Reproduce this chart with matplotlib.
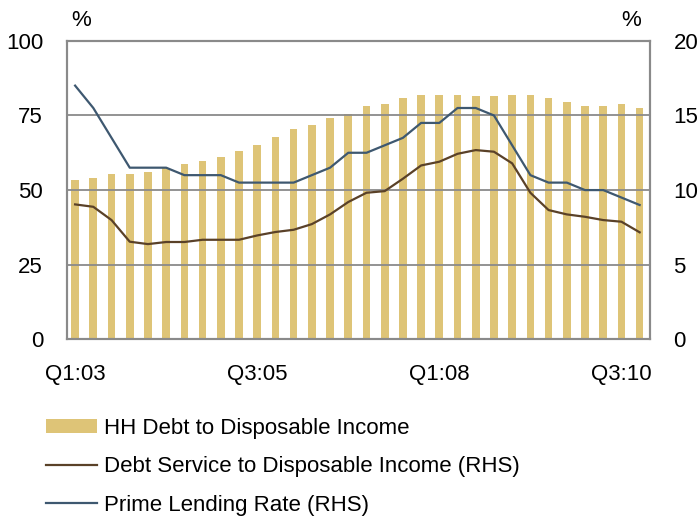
import numpy as np
import matplotlib.pyplot as plt
from matplotlib.patches import Patch
from matplotlib.lines import Line2D

plt.rcParams['font.family'] = ['Liberation Sans', 'DejaVu Sans']

# quarters Q1:03 .. Q4:10
quarters = [f"Q{q}:{y:02d}" for y in range(3, 11) for q in range(1, 5)]

hh_debt = [53.3, 54.0, 55.4, 55.4, 56.0, 57.3, 58.6, 59.8, 61.2, 63.2,
           65.1, 67.7, 70.3, 71.7, 74.3, 75.6, 78.1, 78.8, 80.8, 82.0,
           82.0, 82.0, 81.4, 81.4, 82.0, 82.0, 80.7, 79.5, 78.1, 78.1,
           78.8, 77.5]

debt_service = [9.04, 8.88, 7.99, 6.54, 6.38, 6.52, 6.52, 6.67, 6.67, 6.67,
                6.96, 7.19, 7.34, 7.72, 8.37, 9.2, 9.82, 9.93, 10.76, 11.65,
                11.9, 12.43, 12.68, 12.57, 11.79, 9.82, 8.66, 8.37, 8.21, 7.99,
                7.88, 7.17]

prime_rate = [17.0, 15.5, 13.5, 11.5, 11.5, 11.5, 11.0, 11.0, 11.0, 10.5,
              10.5, 10.5, 10.5, 11.0, 11.5, 12.5, 12.5, 13.0, 13.5, 14.5,
              14.5, 15.5, 15.5, 15.0, 13.0, 11.0, 10.5, 10.5, 10.0, 10.0,
              9.5, 9.0]

tick_pos = [0, 10, 20, 30]

bar_color = '#DEC477'
ds_color = '#5A4128'
pr_color = '#3E5870'
frame_color = '#8A8A8A'
fs = 16

fig = plt.figure(figsize=(6.98, 5.17), dpi=100)
ax = fig.add_axes([0.0956, 0.3437, 0.931 - 0.0956, 0.921 - 0.3437])
x = np.arange(len(quarters))
ax.bar(x, hh_debt, width=0.42, color=bar_color, zorder=2)
for g in [25, 50, 75]:
    ax.axhline(g, color=frame_color, lw=1.3, zorder=3)
ax.set_ylim(0, 100)
ax.set_xlim(-0.46, 31.56)
ax.set_yticks([0, 25, 50, 75, 100])
ax.set_xticks(tick_pos)
ax.set_xticklabels([quarters[i] for i in tick_pos])
ax.tick_params(axis='y', length=0, pad=17, labelsize=fs)
ax.tick_params(axis='x', length=0, pad=18, labelsize=fs)

ax2 = ax.twinx()
ax2.plot(x, debt_service, color=ds_color, lw=1.6)
ax2.plot(x, prime_rate, color=pr_color, lw=1.6)
ax2.set_ylim(0, 20)
ax2.set_yticks([0, 5, 10, 15, 20])
ax2.tick_params(axis='y', length=0, pad=17, labelsize=fs)

for a in (ax, ax2):
    for s in a.spines.values():
        s.set_color(frame_color)
        s.set_linewidth(1.5)

fig.text(81 / 698, 1 - 21 / 517, '%', fontsize=fs, ha='center', va='center')
fig.text(631 / 698, 1 - 21 / 517, '%', fontsize=fs, ha='center', va='center')

handles = [
    Patch(facecolor=bar_color, edgecolor='none'),
    Line2D([], [], color=ds_color, lw=1.6),
    Line2D([], [], color=pr_color, lw=1.6),
]
labels = ['HH Debt to Disposable Income',
          'Debt Service to Disposable Income (RHS)',
          'Prime Lending Rate (RHS)']
fig.legend(handles, labels, loc='upper left',
           bbox_to_anchor=(46 / 698, 1 - 418 / 517), frameon=False,
           fontsize=fs, borderaxespad=0, borderpad=0,
           handlelength=2.3, handleheight=0.55, handletextpad=0.3,
           labelspacing=0.78)

fig.savefig('out.png', dpi=100)
